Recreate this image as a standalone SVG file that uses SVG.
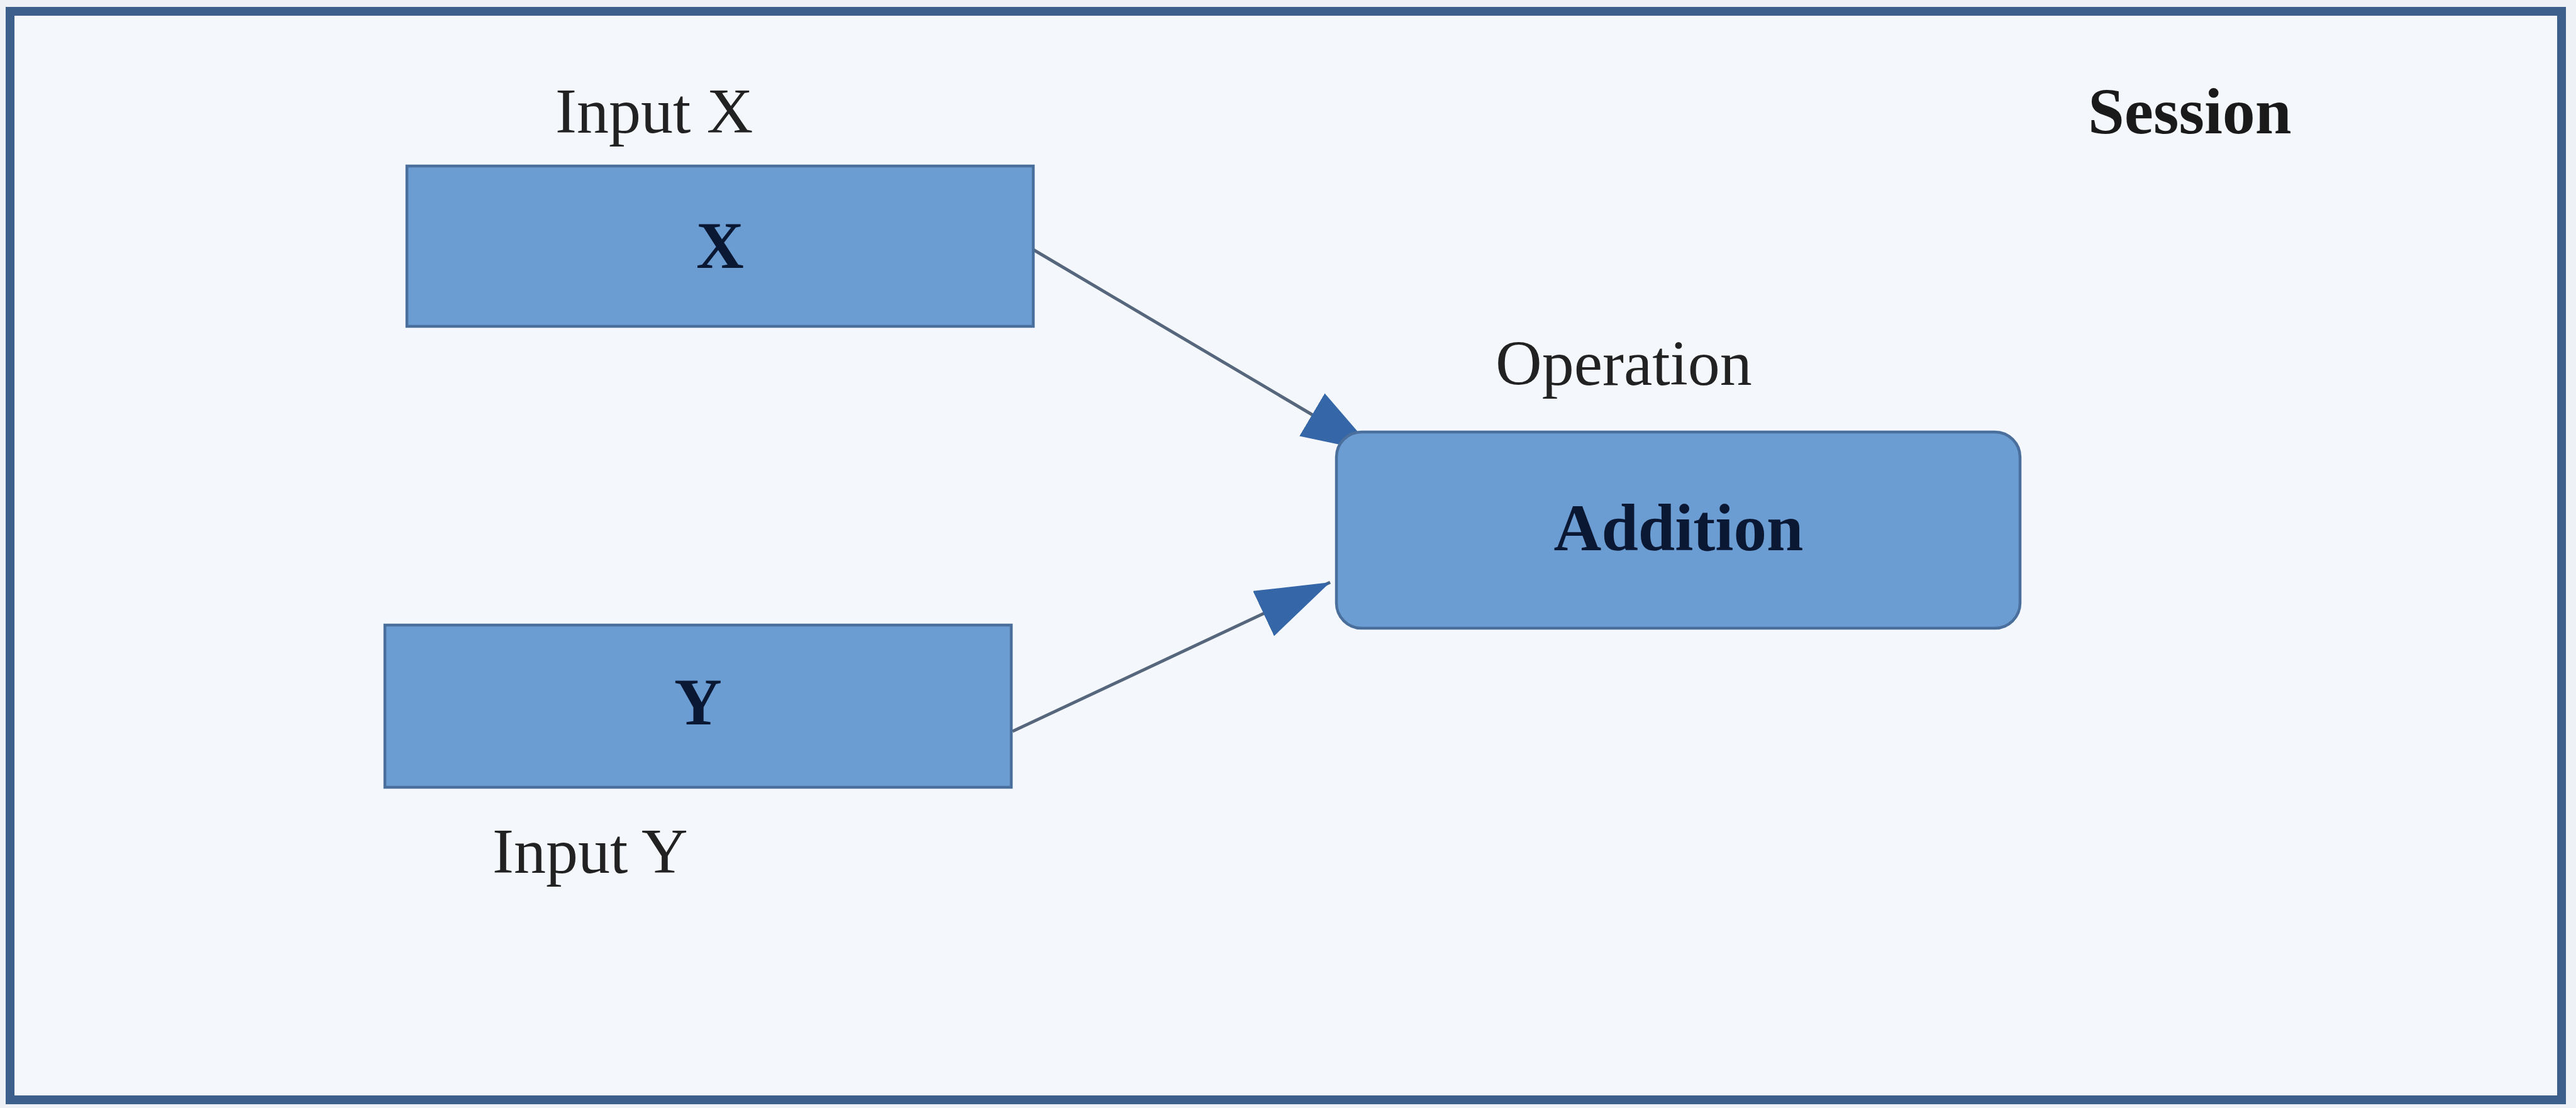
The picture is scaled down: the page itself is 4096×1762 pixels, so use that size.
<svg xmlns="http://www.w3.org/2000/svg" width="4096" height="1762" viewBox="0 0 4096 1762">
  <style>
    .box { fill: #6b9dd3; stroke: #4a6f9c; stroke-width: 4.5; }
    .node-text { font-family: "Liberation Serif", "Times New Roman", serif; font-weight: bold; font-size: 105px; fill: #0b1833; text-anchor: middle; }
    .label { font-family: "Liberation Serif", "Times New Roman", serif; font-size: 102px; fill: #222222; }
    .title { font-family: "Liberation Serif", "Times New Roman", serif; font-weight: bold; font-size: 104px; fill: #1a1a1a; }
    .edge { stroke: #56677d; stroke-width: 5; fill: none; marker-end: url(#arrow); }
  </style>
  <defs>
    <marker id="arrow" markerUnits="userSpaceOnUse" markerWidth="120" markerHeight="80" refX="117" refY="39.5" orient="auto">
      <path d="M0,0 L117,39.5 L0,79 Z" fill="#3466a8"/>
    </marker>
  </defs>

  <!-- page and session frame -->
  <rect x="0" y="0" width="4096" height="1762" fill="#eef1f5"/>
  <g id="session">
    <rect x="16" y="18" width="4057" height="1731" fill="#f4f8fc" stroke="#3c5f8c" stroke-width="14"/>
    <text class="title" x="3320" y="212">Session</text>
  </g>

  <!-- connectors -->
  <g id="connectors">
    <line class="edge" x1="1643" y1="397" x2="2187" y2="719"/>
    <line class="edge" x1="1610" y1="1163" x2="2115" y2="926"/>
  </g>

  <!-- input X -->
  <g id="input-x">
    <text class="label" x="883" y="211">Input X</text>
    <rect class="box" x="647" y="264" width="996" height="255"/>
    <text class="node-text" x="1145" y="426">X</text>
  </g>

  <!-- input Y -->
  <g id="input-y">
    <rect class="box" x="612" y="994" width="996" height="258"/>
    <text class="node-text" x="1110" y="1152">Y</text>
    <text class="label" x="783" y="1388" font-size="100">Input Y</text>
  </g>

  <!-- addition operation -->
  <g id="addition">
    <text class="label" x="2378" y="612" font-size="104" fill="#333333">Operation</text>
    <rect class="box" x="2125" y="687" width="1087" height="312" rx="40" ry="40"/>
    <text class="node-text" x="2669" y="875" font-size="104">Addition</text>
  </g>
</svg>
